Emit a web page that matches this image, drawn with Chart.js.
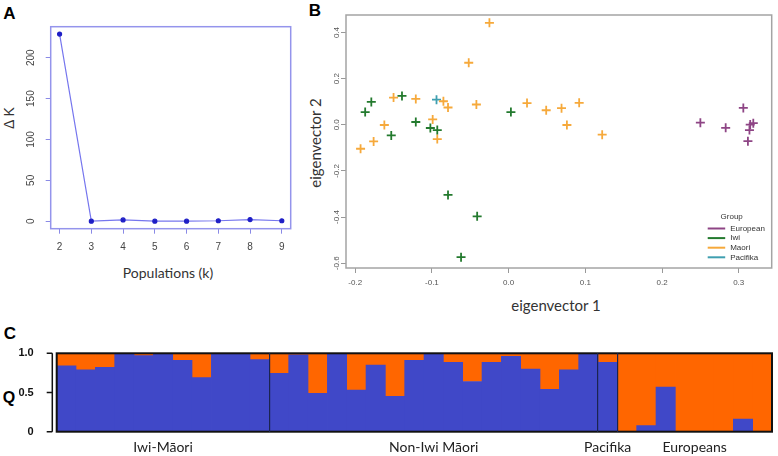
<!DOCTYPE html>
<html>
<head>
<meta charset="utf-8">
<script src="https://cdn.jsdelivr.net/npm/chart.js@4/dist/chart.umd.min.js"></script>
<style>
body { margin: 0; background: #fff; }
#wrap { position: relative; width: 778px; height: 456px; overflow: hidden; font-family: "Liberation Sans", Arial, sans-serif; }
canvas { position: absolute; left: 0; top: 0; }
.lbl { position: absolute; white-space: nowrap; line-height: 1; transform: translate(-50%, -50%); }
.rot { transform: translate(-50%, -50%) rotate(-90deg); }
.panel { font-weight: bold; font-size: 17px; color: #000; }
.ttl { font-family: Lato, sans-serif; font-size: 15px; color: #333; }
</style>
</head>
<body>
<div id="wrap">
  <div class="lbl panel" style="left:9.5px; top:12.5px;">A</div>
  <div class="lbl panel" style="left:315px; top:9.5px;">B</div>
  <div class="lbl panel" style="left:10px; top:332.5px;">C</div>
  <div class="lbl rot" style="left:8.5px; top:118px; font-size:14px; color:#333;">Δ K</div>
  <div class="lbl ttl" style="left:168px; top:273px; font-size:14px;">Populations (k)</div>
  <div class="lbl ttl rot" style="left:315px; top:143px;">eigenvector 2</div>
  <div class="lbl ttl" style="left:556px; top:305px;">eigenvector 1</div>
  <div class="lbl panel" style="left:9px; top:397.5px; font-size:16px;">Q</div>
</div>
<script>
// panel A - delta K
var kValues = [2, 3, 4, 5, 6, 7, 8, 9];
var deltaK = [229, 0, 1.5, 0, 0, 0.5, 2, 0.5];
var deltaKTicks = [0, 50, 100, 150, 200];

// panel B - PCA, one pair of arrays per group
var pcaGroups = ['European', 'Iwi', 'Maori', 'Pacifika'];
var pcaColors = ['#8e4585', '#237a2e', '#f6a93b', '#3f9fb0'];
var europeanX = [0.306, 0.250, 0.283, 0.315, 0.319, 0.314, 0.312];
var europeanY = [0.073, 0.009, -0.013, 0.001, 0.007, -0.023, -0.071];
var iwiX = [-0.187, -0.179, -0.139, -0.153, -0.121, -0.102, -0.093, -0.079, -0.041, -0.062, 0.003];
var iwiY = [0.055, 0.099, 0.125, -0.046, 0.012, -0.014, -0.023, -0.304, -0.397, -0.574, 0.055];
var maoriX = [-0.025, -0.052, -0.150, -0.121, -0.085, -0.079, -0.042, -0.099, -0.093, -0.162, -0.176, -0.193, 0.024, 0.049, 0.069, 0.092, 0.076, 0.122];
var maoriY = [0.442, 0.269, 0.118, 0.112, 0.102, 0.075, 0.088, 0.023, -0.062, -0.001, -0.072, -0.104, 0.094, 0.063, 0.072, 0.095, -0.001, -0.043];
var pacifikaX = [-0.094];
var pacifikaY = [0.109];
var pcaXTicks = [-0.2, -0.1, 0, 0.1, 0.2, 0.3];
var pcaYTicks = [-0.6, -0.4, -0.2, 0, 0.2, 0.4];

// panel C - structure Q (blue cluster share), per group
var structureGroups = ['Iwi-Māori', 'Non-Iwi Māori', 'Pacifika', 'Europeans'];
var iwiQ = [0.84, 0.79, 0.82, 1.0, 0.97, 1.0, 0.91, 0.69, 1.0, 1.0, 0.92];
var nonIwiQ = [0.745, 0.98, 0.49, 0.99, 0.53, 0.85, 0.45, 0.91, 1.0, 0.885, 0.64, 0.885, 0.96, 0.80, 0.54, 0.79, 1.0];
var pacifikaQ = [0.885];
var europeansQ = [0, 0.077, 0.57, 0, 0, 0, 0.16, 0];
var qTicks = [0, 0.5, 1];

function addCanvas(id) {
    var c = document.createElement('canvas');
    c.id = id;
    c.width = 778;
    c.height = 456;
    document.getElementById('wrap').appendChild(c);
    return c;
}

function boxPlugin(color, width) {
    return {
        id: 'box',
        afterDatasetsDraw: function (chart) {
            var a = chart.chartArea, ctx = chart.ctx;
            ctx.save();
            ctx.strokeStyle = color;
            ctx.lineWidth = width;
            ctx.strokeRect(a.left, a.top, a.right - a.left, a.bottom - a.top);
            ctx.restore();
        }
    };
}

// R style y labels, parallel to the axis
function rotatedYLabels(offset, font, color) {
    return {
        id: 'rotY',
        afterDraw: function (chart) {
            var s = chart.scales.y, ctx = chart.ctx;
            ctx.save();
            ctx.font = font;
            ctx.fillStyle = color;
            ctx.textAlign = 'center';
            ctx.textBaseline = 'middle';
            s.ticks.forEach(function (t) {
                ctx.save();
                ctx.translate(chart.chartArea.left - offset, s.getPixelForValue(t.value));
                ctx.rotate(-Math.PI / 2);
                ctx.fillText(s.options.ticks.callback(t.value), 0, 0);
                ctx.restore();
            });
            ctx.restore();
        }
    };
}

function fixedTicks(list) {
    return function (s) { s.ticks = list.map(function (v) { return { value: v }; }); };
}

// ---------- A ----------
new Chart(addCanvas('chartA'), {
    type: 'line',
    data: {
        datasets: [{
            data: kValues.map(function (k, i) { return { x: k, y: deltaK[i] }; }),
            borderColor: '#7676ee',
            borderWidth: 1.2,
            pointRadius: 2,
            pointBackgroundColor: '#1f1fc6',
            pointBorderColor: '#1f1fc6',
            tension: 0
        }]
    },
    options: {
        responsive: false, animation: false, events: [],
        layout: { padding: { left: 30.7, top: 26.7, right: 487.3, bottom: 197.3 } },
        plugins: { legend: { display: false }, tooltip: { enabled: false } },
        scales: {
            x: {
                type: 'linear', min: 1.72, max: 9.28,
                afterBuildTicks: fixedTicks(kValues),
                afterFit: function (s) { s.height = 30; },
                border: { display: false },
                grid: { drawOnChartArea: false, tickLength: 5, color: '#8a8ae6' },
                ticks: { color: '#444', font: { size: 10, family: 'Liberation Sans' }, padding: 8 }
            },
            y: {
                min: -9.2, max: 238,
                afterBuildTicks: fixedTicks(deltaKTicks),
                afterFit: function (s) { s.width = 20; },
                border: { display: false },
                grid: { drawOnChartArea: false, tickLength: 5, color: '#8a8ae6' },
                ticks: { display: false, callback: function (v) { return String(v); } }
            }
        }
    },
    plugins: [boxPlugin('#9494ec', 1.5), rotatedYLabels(19, '10px "Liberation Sans"', '#444')]
});

// ---------- B ----------
var pcaX = [europeanX, iwiX, maoriX, pacifikaX];
var pcaY = [europeanY, iwiY, maoriY, pacifikaY];

var pcaLegend = {
    id: 'pcaLegend',
    afterDraw: function (chart) {
        var a = chart.chartArea, ctx = chart.ctx;
        ctx.save();
        ctx.font = '8px "Liberation Sans"';
        ctx.textBaseline = 'middle';
        ctx.fillStyle = '#333';
        ctx.textAlign = 'center';
        ctx.fillText('Group', a.right - 40, a.bottom - 51);
        ctx.textAlign = 'left';
        chart.data.datasets.forEach(function (ds, i) {
            var y = a.bottom - 39.5 + i * 9.6;
            ctx.strokeStyle = ds.borderColor;
            ctx.lineWidth = 2;
            ctx.beginPath();
            ctx.moveTo(a.right - 64, y);
            ctx.lineTo(a.right - 46.5, y);
            ctx.stroke();
            ctx.fillStyle = '#333';
            ctx.fillText(ds.label, a.right - 41.5, y);
        });
        ctx.restore();
    }
};

new Chart(addCanvas('chartB'), {
    type: 'scatter',
    data: {
        datasets: pcaGroups.map(function (g, gi) {
            return {
                label: g,
                data: pcaX[gi].map(function (x, i) { return { x: x, y: pcaY[gi][i] }; }),
                pointStyle: 'cross',
                pointRadius: 4.5,
                borderWidth: 1.8,
                borderColor: pcaColors[gi],
                backgroundColor: pcaColors[gi]
            };
        })
    },
    options: {
        responsive: false, animation: false, events: [],
        layout: { padding: { left: 326, top: 15, right: 1.3, bottom: 158 } },
        plugins: { legend: { display: false }, tooltip: { enabled: false } },
        scales: {
            x: {
                type: 'linear', min: -0.212, max: 0.343,
                afterBuildTicks: fixedTicks(pcaXTicks),
                afterFit: function (s) { s.height = 30; },
                border: { display: false },
                grid: { drawOnChartArea: false, tickLength: 5, color: '#999' },
                ticks: { color: '#555', font: { size: 8, family: 'Liberation Sans' }, padding: 5,
                    callback: function (v) { return v.toFixed(1); } }
            },
            y: {
                min: -0.621, max: 0.476,
                afterBuildTicks: fixedTicks(pcaYTicks),
                afterFit: function (s) { s.width = 20; },
                border: { display: false },
                grid: { drawOnChartArea: false, tickLength: 5, color: '#999' },
                ticks: { display: false, callback: function (v) { return v.toFixed(1); } }
            }
        }
    },
    plugins: [boxPlugin('#a4a4a4', 1.5), rotatedYLabels(9.3, '8px "Liberation Sans"', '#555'), pcaLegend]
});

// ---------- C ----------
var groupQ = [iwiQ, nonIwiQ, pacifikaQ, europeansQ];
var qAll = [].concat(iwiQ, nonIwiQ, pacifikaQ, europeansQ);
var boundaries = [];
var acc = 0;
groupQ.forEach(function (g) { boundaries.push(acc); acc += g.length; });

var structureDecor = {
    id: 'structureDecor',
    afterDraw: function (chart) {
        var a = chart.chartArea, ctx = chart.ctx, xs = chart.scales.x, ys = chart.scales.y;
        ctx.save();
        // R axis, offset from the box
        ctx.strokeStyle = '#111';
        ctx.lineWidth = 1.5;
        ctx.beginPath();
        ctx.moveTo(a.left - 4.4, ys.getPixelForValue(0));
        ctx.lineTo(a.left - 4.4, ys.getPixelForValue(1));
        qTicks.forEach(function (v) {
            ctx.moveTo(a.left - 4.4, ys.getPixelForValue(v));
            ctx.lineTo(a.left - 10, ys.getPixelForValue(v));
        });
        ctx.stroke();
        // group names
        ctx.font = '14px Lato';
        ctx.fillStyle = '#222';
        ctx.textAlign = 'center';
        ctx.textBaseline = 'middle';
        structureGroups.forEach(function (name, gi) {
            var first = boundaries[gi], last = first + groupQ[gi].length - 1;
            var cx = (xs.getPixelForValue(first) + xs.getPixelForValue(last)) / 2;
            ctx.fillText(name, cx, a.bottom + 15.5);
        });
        ctx.restore();
    }
};

new Chart(addCanvas('chartC'), {
    type: 'bar',
    data: {
        labels: qAll.map(function (q, i) { return String(i + 1); }),
        datasets: [{
            data: qAll,
            backgroundColor: '#4048c8',
            borderWidth: 0,
            barPercentage: 1,
            categoryPercentage: 1
        }, {
            data: qAll.map(function (q) { return +(1 - q).toFixed(3); }),
            backgroundColor: '#ff6600',
            borderWidth: 0,
            barPercentage: 1,
            categoryPercentage: 1
        }]
    },
    options: {
        responsive: false, animation: false, events: [],
        layout: { padding: { left: 11.7, top: 353.3, right: 6, bottom: 24.3 } },
        plugins: { legend: { display: false }, tooltip: { enabled: false } },
        scales: {
            x: {
                stacked: true,
                afterFit: function (s) { s.height = 0; },
                border: { display: false },
                grid: {
                    z: 1, offset: true, drawTicks: false, lineWidth: 1.2,
                    color: function (c) { return boundaries.indexOf(c.index) > 0 ? '#1b2450' : 'rgba(0,0,0,0)'; }
                },
                ticks: { display: false }
            },
            y: {
                stacked: true, min: 0, max: 1,
                afterBuildTicks: fixedTicks(qTicks),
                afterFit: function (s) { s.width = 45; },
                border: { display: false },
                grid: { display: false },
                ticks: { color: '#111', padding: 15, font: { size: 11, weight: 'bold', family: 'Liberation Sans' },
                    callback: function (v) { return v === 0 ? '0' : v.toFixed(1); } }
            }
        }
    },
    plugins: [boxPlugin('#111', 2), structureDecor]
});
</script>
</body>
</html>
